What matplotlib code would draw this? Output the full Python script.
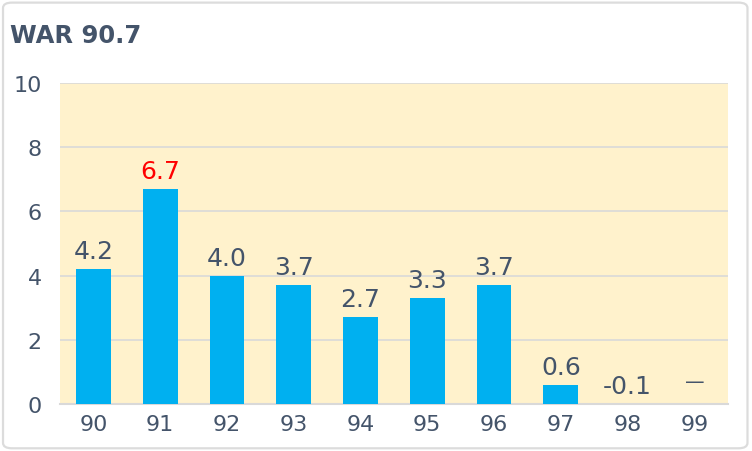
import matplotlib
matplotlib.use("Agg")
import matplotlib.pyplot as plt
from matplotlib.patches import FancyBboxPatch
from matplotlib.transforms import offset_copy
import numpy as np

plt.rcParams['font.family'] = ['DejaVu Sans']

seasons = ["90", "91", "92", "93", "94", "95", "96", "97", "98", "99"]
war = [4.2, 6.7, 4.0, 3.7, 2.7, 3.3, 3.7, 0.6, -0.1, None]
labels = ["4.2", "6.7", "4.0", "3.7", "2.7", "3.3", "3.7", "0.6", "-0.1", "—"]
highlight = "91"
title = "WAR 90.7"
yticks = [0, 2, 4, 6, 8, 10]

text_color = "#44546A"
bar_color = "#00B0F0"
bg_color = "#FFF2CC"
grid_color = "#D9D9D9"

fig = plt.figure(figsize=(7.52, 4.52), dpi=100)
frame = FancyBboxPatch((0.004, 0.006), 0.99, 0.986, boxstyle="round,pad=0,rounding_size=0.012",
                       transform=fig.transFigure, facecolor="white", edgecolor="#DCDCDC",
                       linewidth=1.6, zorder=-10)
fig.patches.append(frame)

ax = fig.add_axes([0.0798, 0.104, 0.888, 0.710])
ax.set_facecolor(bg_color)
x = np.arange(len(seasons))
vals = [np.nan if v is None else v for v in war]
ax.bar(x, vals, width=0.52, color=bar_color, zorder=3)

trans = offset_copy(ax.transData, fig=fig, x=0, y=11, units="dots")
trans_dash = offset_copy(ax.transData, fig=fig, x=0, y=17, units="dots")
for xi, v, lab, s in zip(x, war, labels, seasons):
    yv = 0 if (v is None or v < 0) else v
    c = "#FF0000" if s == highlight else text_color
    if v is None:
        ax.text(xi, yv, lab, ha="center", va="baseline", fontsize=14, color=c, zorder=4,
                transform=trans_dash)
    else:
        ax.text(xi, yv, lab, ha="center", va="baseline", fontsize=18, color=c, zorder=4,
                transform=trans)

ax.set_xlim(-0.5, len(seasons) - 0.5)
ax.set_ylim(0, 10)
ax.set_yticks(yticks)
ax.set_xticks(x)
ax.set_xticklabels(seasons)
ax.tick_params(axis="both", length=0, labelsize=16, colors=text_color)
ax.tick_params(axis="x", pad=7)
ax.tick_params(axis="y", pad=13)
ax.yaxis.grid(True, color=grid_color, linewidth=1.2, zorder=0)
ax.set_axisbelow(True)
for side in ["left", "right", "top"]:
    ax.spines[side].set_visible(False)
ax.spines["bottom"].set_color(grid_color)
ax.spines["bottom"].set_linewidth(1.5)

fig.text(0.013, 0.92, title, fontsize=17.5, fontweight="bold", color=text_color, ha="left", va="center")

fig.savefig("out.png", dpi=100)
